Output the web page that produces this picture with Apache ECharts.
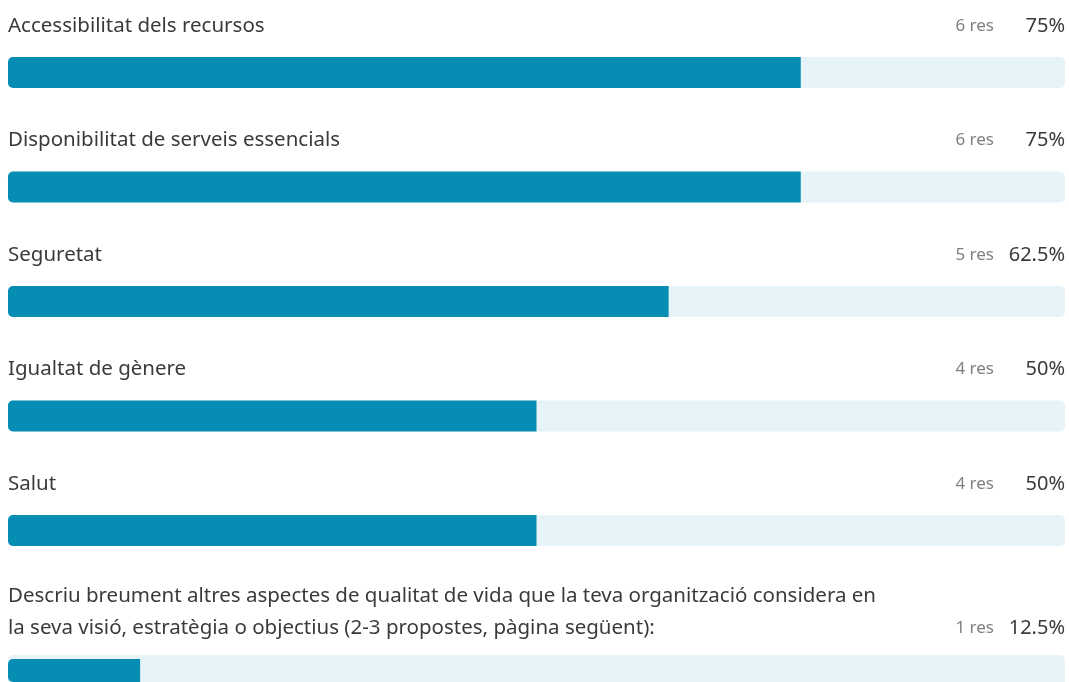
<!DOCTYPE html>
<html>
<head>
<meta charset="utf-8">
<script src="https://cdn.jsdelivr.net/npm/echarts@6/dist/echarts.min.js"></script>
<style>
  html, body { margin: 0; padding: 0; background: #fff; }
  #main { width: 1069px; height: 682px; }
</style>
</head>
<body>
<div id="main"></div>
<script>
// enquesta: qualitat de vida, 8 respostes en total
var questions = [
  'Accessibilitat dels recursos',
  'Disponibilitat de serveis essencials',
  'Seguretat',
  'Igualtat de gènere',
  'Salut',
  'Descriu breument altres aspectes de qualitat de vida que la teva organització considera en\nla seva visió, estratègia o objectius (2-3 propostes, pàgina següent):'
];
var counts = [6, 6, 5, 4, 4, 1];
var percents = ['75%', '75%', '62.5%', '50%', '50%', '12.5%'];
var total = 8;

var chart = echarts.init(document.getElementById('main'));

var grids = [], xAxes = [], yAxes = [], series = [], titles = [];
var font = 'Noto Sans';
var pitch = 114.5, lineH = 32, extraGap = 29.5, barH = 31;
var extra = 0;
for (var i = 0; i < questions.length; i++) {
  var lines = questions[i].split('\n').length;
  extra += (lines - 1) * extraGap;
  var barTop = 57 + i * pitch + extra;
  var lastLine = barTop - 31; // centre of the line right above the bar
  grids.push({ left: 8, right: 4, top: barTop, height: barH });
  xAxes.push({ gridIndex: i, type: 'value', min: 0, max: total, show: false });
  yAxes.push({ gridIndex: i, type: 'category', data: ['q' + i], show: false });
  series.push({
    type: 'bar', xAxisIndex: i, yAxisIndex: i,
    data: [counts[i]], barWidth: barH,
    showBackground: true,
    backgroundStyle: { color: '#e6f3f8', borderRadius: 5 },
    itemStyle: { color: '#058db4', borderRadius: [5, 0, 0, 5] }
  });
  // texts above the bar
  titles.push({
    text: questions[i], left: 8, top: lastLine - (lines - 0.5) * lineH, padding: 0,
    textStyle: { fontFamily: font, fontSize: 20.5, fontWeight: 'normal', color: '#3a3a3a', lineHeight: lineH }
  });
  titles.push({
    text: counts[i] + ' res', right: 75, top: lastLine - lineH / 2, padding: 0,
    textStyle: { fontFamily: font, fontSize: 17, fontWeight: 'normal', color: '#808080', lineHeight: lineH }
  });
  titles.push({
    text: percents[i], right: 4, top: lastLine - lineH / 2, padding: 0,
    textStyle: { fontFamily: font, fontSize: 20, fontWeight: 'normal', color: '#3a3a3a', lineHeight: lineH }
  });
}

chart.setOption({
  backgroundColor: '#fff',
  animation: false,
  title: titles,
  grid: grids,
  xAxis: xAxes,
  yAxis: yAxes,
  series: series
});
</script>
</body>
</html>
